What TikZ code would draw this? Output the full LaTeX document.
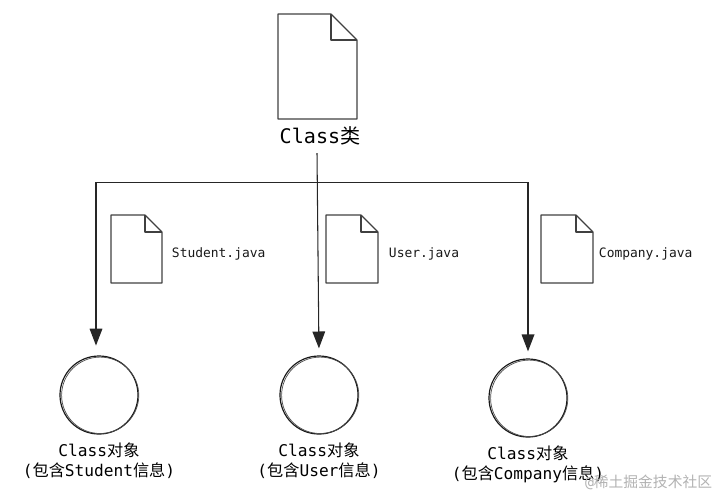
\documentclass[tikz,border=0pt]{standalone}
\usepackage{fontspec}
\setmainfont{DejaVu Sans Mono}
\newfontfamily\cjkfont{Noto Sans CJK SC}
\usetikzlibrary{arrows.meta,positioning}
\newcommand{\zh}[1]{{\cjkfont #1}}
\tikzset{
	objcircle/.style={circle, draw=black!90, line width=0.85pt, minimum size=1.95cm, inner sep=0pt},
	objlabel/.style={align=center, font=\fontsize{11.5}{14.2}\selectfont, text=black},
	filelabel/.style={anchor=west, font=\fontsize{9.2}{11}\selectfont, text=black!90},
	wire/.style={line width=0.6pt, draw=black!85},
	tiparrow/.style={-{Triangle[length=12pt, width=9pt]}}
}
\newcommand{\docicon}[5]{% left, top, right, bottom, fold size
	\draw [line width=0.8pt, draw=black!75, line join=round] (#1,#2) -- (#3-#5,#2) -- (#3,#2+#5) -- (#3,#4) -- (#1,#4) -- cycle;
	\draw [line width=0.8pt, draw=black!75, line join=round] (#3-#5,#2) -- (#3-#5,#2+#5) -- (#3,#2+#5);
}
\begin{document}
\begin{tikzpicture}[x=0.025cm, y=-0.025cm]
	\useasboundingbox (0,0) rectangle (720,495);
	% file icons
	\docicon{278}{14}{357}{119}{26}
	\docicon{111}{215}{162}{283}{17}
	\docicon{326}{215}{378}{283}{17}
	\docicon{541}{215}{593}{283}{17}
	% labels
	\node [font=\fontsize{14.3}{16}\selectfont, text=black] (classlabel) at (320,136) {Class\zh{类}};
	\node [filelabel] (studentfile) at (167,254) {Student.java};
	\node [filelabel] (userfile) at (384,254) {User.java};
	\node [filelabel] (companyfile) at (594,254) {Company.java};
	% objects
	\node [objcircle] (objstudent) at (99,395) {};
	\node [objcircle] (objuser) at (319,395) {};
	\node [objcircle] (objcompany) at (528,398) {};
	\foreach \obj in {objstudent,objuser,objcompany}
		\draw [line width=0.5pt, draw=black!70] (\obj.center) ++(1.2,0.3) ellipse (38.6 and 38.2);
	\node [objlabel, below=2.5pt of objstudent] (studentlabel) {Class\zh{对象}\\(\zh{包含}Student\zh{信息})};
	\node [objlabel, below=2.5pt of objuser] (userlabel) {Class\zh{对象}\\(\zh{包含}User\zh{信息})};
	\node [objlabel, below=2.5pt of objcompany] (companylabel) {Class\zh{对象}\\(\zh{包含}Company\zh{信息})};
	% connectors
	\coordinate (busleft) at (96,182);
	\coordinate (busright) at (528,182);
	\coordinate (trunk) at (317,153);
	\draw [wire] (busleft) -- (busright);
	\draw [wire, line width=0.85pt, tiparrow, shorten >=7pt] (busleft) -- (busleft |- objstudent.north);
	\draw [wire, line width=0.75pt, tiparrow, shorten >=5pt] (trunk) -- (objuser.north);
	\draw [wire, line width=0.85pt, tiparrow, shorten >=5pt] (busright) -- (objcompany.north);
	% watermark
	\node [anchor=east, font=\fontsize{10.5}{12}\selectfont, text=black!30] (watermark) at (717,482) {@\zh{稀土掘金技术社区}};
\end{tikzpicture}
\end{document}
